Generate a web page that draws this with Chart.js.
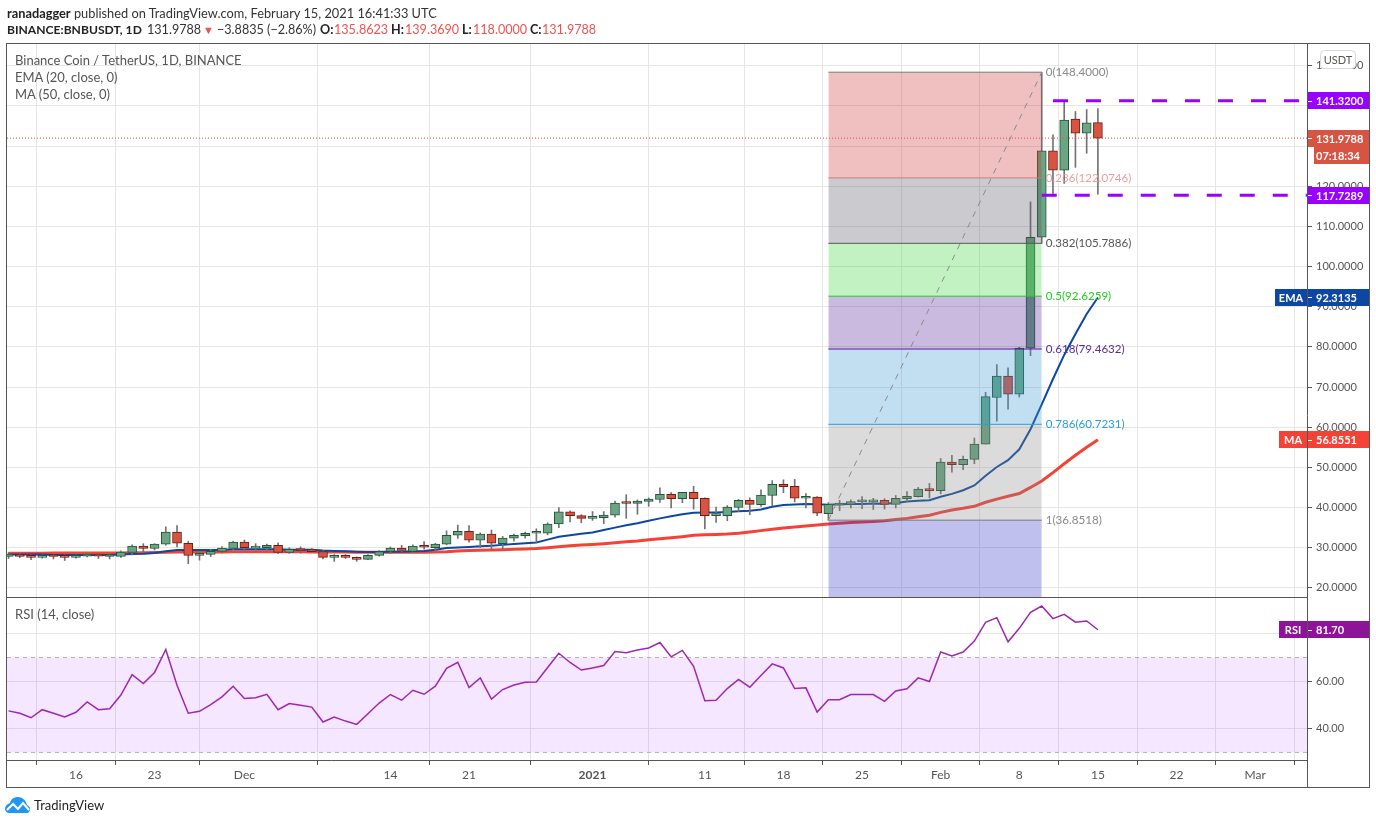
<!DOCTYPE html>
<html>
<head>
<meta charset="utf-8">
<title>BNBUSDT</title>
<script src="https://cdn.jsdelivr.net/npm/chart.js@4/dist/chart.umd.min.js"></script>
<style>
  html, body { margin: 0; background: #fff; width: 1376px; height: 824px; overflow: hidden; }
  body { position: relative; font-family: Lato, sans-serif; color: #333; }
  canvas { position: absolute; left: 0; top: 0; }
  .t { position: absolute; white-space: nowrap; font-size: 13px; line-height: 16px; }
  .h2 { top: 22px; font-size: 12.6px; }
  .legend { color: #555; }
  b { font-weight: 700; color: #222; }
  .r { color: #ef5350; }
  #logo { position: absolute; left: 5px; top: 796px; }
</style>
</head>
<body>
<canvas id="chart" width="1376" height="824"></canvas>
<div class="t" style="left:7px;top:5px;font-size:12.8px"><b>ranadagger</b> published on TradingView.com, February 15, 2021 16:41:33 UTC</div>
<div class="t h2" style="left:7px;font-size:12.1px"><b>BINANCE:BNBUSDT, 1D</b></div>
<div class="t h2" style="left:147px">131.9788</div>
<div class="t h2 r" style="left:203px;font-size:11px">▼</div>
<div class="t h2" style="left:217px">−3.8835 (−2.86%)</div>
<div class="t h2" style="left:320px"><b>O:</b></div>
<div class="t h2 r" style="left:334px">135.8623</div>
<div class="t h2" style="left:391px"><b>H:</b></div>
<div class="t h2 r" style="left:405px">139.3690</div>
<div class="t h2" style="left:462px"><b>L:</b></div>
<div class="t h2 r" style="left:473px">118.0000</div>
<div class="t h2" style="left:530px"><b>C:</b></div>
<div class="t h2 r" style="left:542px">131.9788</div>
<div class="t legend" style="left:15px;top:52px">Binance Coin / TetherUS, 1D, BINANCE</div>
<div class="t legend" style="left:15px;top:69px">EMA (20, close, 0)</div>
<div class="t legend" style="left:15px;top:86px">MA (50, close, 0)</div>
<div class="t legend" style="left:15px;top:606px">RSI (14, close)</div>
<svg id="logo" width="26" height="18" viewBox="0 0 26 18">
  <path fill="#2196f3" d="M4 17h18c2 0 3-2 3-4 0-2-1-3-3-4-1-5-5-8-9-8-4 0-7 2-8 6-3 1-5 3-5 6 0 2 2 4 4 4z"/>
  <path fill="none" stroke="#fff" stroke-width="2" d="M2 14l6-6 5 5 5-6 6 7"/>
</svg>
<div class="t" style="left:34px;top:797px;color:#222">TradingView</div>
<script>
// candles, index 0 = 10 Nov 2020, one per day up to 15 Feb 2021
const open = [27.8,28.2,28.0,27.6,28.2,28.0,27.6,27.9,28.4,27.8,27.8,28.8,30.4,29.8,30.9,33.9,31.1,28.1,28.3,29.05,29.8,31.4,29.9,30.0,30.6,28.8,29.6,29.4,29.05,27.6,28.1,27.6,27.1,28.1,29.05,29.9,29.05,30.4,30.0,30.9,33.1,34.1,31.9,33.4,31.0,32.4,33.0,33.6,33.6,35.9,38.9,38.0,37.3,37.5,38.1,41.1,41.0,41.5,42.0,43.3,42.2,43.8,42.3,38.0,38.0,40.0,41.8,40.7,43.0,45.8,45.3,42.3,42.6,38.5,40.6,40.8,41.4,41.4,41.8,40.8,42.2,42.7,44.6,44.2,51.3,50.7,52.0,55.8,67.4,72.7,68.2,79.7,107.3,128.8,124.0,136.7,133.2,135.86];
const high = [28.8,28.5,28.2,28.2,28.4,28.2,28.2,28.6,28.6,28.4,29.2,30.7,31.0,31.0,35.2,35.5,31.6,28.9,29.6,30.3,31.6,31.9,31.0,30.9,31.2,30.0,30.2,29.8,29.3,28.3,28.3,27.7,28.3,29.3,30.2,30.6,30.7,31.5,31.1,34.2,35.6,35.5,33.7,34.4,32.8,33.4,33.9,34.7,36.2,40.0,39.2,38.2,39.0,39.0,41.6,43.2,41.9,42.4,44.9,43.7,43.8,45.3,42.4,40.1,40.5,42.0,42.4,44.4,46.7,46.9,47.0,43.5,42.7,41.2,41.8,41.9,42.7,42.3,42.2,43.0,44.0,45.0,46.0,52.2,53.0,52.8,57.3,68.7,75.6,74.8,79.9,116.1,148.4,132.8,141.2,138.6,139.1,139.37];
const low = [27.3,27.5,27.0,27.4,27.2,26.8,27.4,27.7,27.3,27.2,27.6,28.2,28.8,29.4,30.6,30.2,26.0,26.9,27.8,28.7,29.5,29.1,29.1,29.3,28.5,28.6,28.6,28.9,27.2,26.6,27.3,26.6,27.0,27.9,28.5,28.9,28.7,29.6,29.3,30.7,32.3,31.4,30.0,29.6,29.6,31.6,32.4,31.3,33.2,35.0,36.4,36.2,36.8,36.0,37.6,37.3,38.3,40.3,41.3,39.9,41.2,39.6,34.7,36.3,36.7,39.0,38.2,40.3,40.4,43.7,41.4,39.9,38.0,36.85,39.2,39.9,39.7,39.5,39.6,39.9,41.5,42.6,42.4,43.4,48.8,49.4,50.9,55.8,61.5,64.5,67.5,77.8,105.8,117.6,120.7,124.7,128.2,118.0];
const close = [28.4,27.8,27.6,28.1,27.8,27.6,28.0,28.4,27.9,28.2,28.9,30.4,29.8,30.9,33.9,31.1,28.1,28.5,29.1,29.9,31.4,30.0,30.1,30.6,28.8,29.6,29.3,29.0,27.6,28.1,27.6,27.1,28.1,29.05,29.9,29.3,30.4,30.1,30.9,33.1,34.1,31.9,33.4,31.1,32.4,33.1,33.6,33.7,35.9,38.9,38.0,37.3,37.6,38.1,41.1,41.0,41.6,42.1,43.3,42.2,43.8,42.2,38.0,38.2,40.1,41.8,40.8,43.1,45.8,45.2,42.3,42.6,38.6,40.8,40.9,41.5,41.6,41.8,40.8,42.3,42.8,44.6,44.2,51.3,50.7,52.0,55.8,67.6,72.7,68.2,79.7,107.3,128.8,124.0,136.5,133.2,135.8,131.98];

const ema = [28.3,28.3,28.3,28.3,28.2,28.2,28.2,28.2,28.2,28.2,28.3,28.4,28.5,28.7,29.1,29.4,29.4,29.4,29.4,29.4,29.6,29.6,29.6,29.6,29.6,29.5,29.5,29.5,29.3,29.2,29.1,29.0,28.95,28.95,29.0,29.0,29.1,29.15,29.5,29.9,30.05,30.2,30.35,30.5,30.7,30.9,31.1,31.3,32.0,32.7,33.1,33.45,33.8,34.4,35.0,35.6,36.1,36.7,37.3,37.8,38.3,38.7,38.75,38.75,38.9,39.1,39.2,39.5,40.2,40.6,40.75,40.85,40.8,40.7,40.8,40.9,40.9,41.0,40.95,41.1,41.5,41.7,41.8,42.7,43.4,44.3,45.5,47.9,50.1,51.8,54.5,59.5,65.7,72.0,78.0,83.2,88.2,92.31];
const ma = [28.6,28.6,28.6,28.6,28.65,28.65,28.65,28.7,28.7,28.7,28.7,28.75,28.75,28.8,28.85,28.9,28.9,28.9,28.95,28.95,29.0,29.0,29.0,29.0,29.0,29.0,29.0,28.95,28.95,28.9,28.9,28.85,28.85,28.85,28.85,28.85,28.85,28.85,28.9,29.0,29.2,29.3,29.35,29.4,29.5,29.6,29.7,29.8,30.0,30.25,30.5,30.65,30.8,31.0,31.2,31.45,31.65,31.95,32.2,32.45,32.75,33.1,33.2,33.3,33.4,33.6,33.9,34.25,34.6,34.9,35.15,35.4,35.65,35.9,36.1,36.25,36.4,36.55,36.7,37.0,37.3,37.7,38.1,38.8,39.4,39.8,40.3,41.3,42.1,42.8,43.5,45.0,46.6,48.7,50.9,53.0,55.0,56.86];
const rsi = [47.5,46.5,44.6,48.0,46.5,44.9,46.9,51.3,48.0,48.4,54.2,62.8,59.0,63.7,73.4,58.3,46.5,47.3,50.1,53.4,57.9,52.7,53.0,54.5,48.0,50.6,49.9,49.1,42.8,44.9,43.2,41.8,46.3,50.8,54.4,52.0,56.2,54.5,57.9,65.4,68.0,57.3,61.4,52.5,56.5,58.4,59.6,59.7,65.8,71.8,67.9,64.7,65.6,66.6,72.5,72.0,73.2,74.0,76.3,70.3,73.0,66.3,51.8,52.0,56.9,60.8,57.5,62.4,67.3,65.6,56.9,57.2,47.0,52.2,52.2,54.4,54.4,54.4,51.5,55.9,56.8,61.4,59.9,72.3,70.7,72.3,76.9,84.8,86.8,76.6,82.3,89.0,91.7,86.4,88.2,84.9,85.4,81.7];

const fibRatios = ["0","0.236","0.382","0.5","0.618","0.786","1"];
const fibLevels = [148.4,122.0746,105.7886,92.6259,79.4632,60.7231,36.8518];
const fibStart = 73, fibEnd = 92;
const support = 117.7289, resistance = 141.32, lastPrice = 131.9788;
const emaLast = 92.3135, maLast = 56.8551, rsiLast = 81.7;

const priceTicks = [20,30,40,50,60,70,80,90,100,110,120,130,140,150];
const rsiTicks = [40,60,80];
const rsiBands = [70,30];
const timeTickIdx = [6,13,21,34,41,52,62,69,76,83,90,97,104,111];
const timeTickLabels = ["16","23","Dec","14","21","2021","11","18","25","Feb","8","15","22","Mar"];

// view limits of the axes
const xMin = -0.14, xMax = 115.62, priceMin = 17.72, priceMax = 155.42, rsiMin = 26.8, rsiMax = 95.5;

const UP = "#6ba583", UP_EDGE = "#225437", DOWN = "#d75442", DOWN_EDGE = "#6f1c11", WICK = "#737375";
const GRID = "#e6e6e6", FRAME = "#555", TEXT = "#555";
const FONT = "Lato, sans-serif";
const fibFills = ["rgba(205,48,48,.3)","rgba(82,82,95,.3)","rgba(55,212,52,.3)","rgba(82,28,148,.3)","rgba(52,148,212,.3)","rgba(135,135,135,.3)","rgba(48,48,202,.3)"];
const fibLines = ["#787878","#cf7a7a","#555","#22cc22","#5a1a9a","#2a9fd8","#787878"];
const fibText = ["#888","#ec9f9f","#555","#22cc22","#5a2a9a","#2a9fd8","#888"];

const idx = open.map((_, i) => i);
const isUp = i => close[i] >= open[i];
const series = vals => vals.map((v, i) => ({ x: i, y: v }));
const hline = (a, b, v) => [{ x: a, y: v }, { x: b, y: v }];
const lineBase = { type: "line", pointRadius: 0, tension: 0, yAxisID: "price" };

const datasets = [
  { ...lineBase, data: series(ma), borderColor: "#f44336", borderWidth: 3, order: 30 },
  { ...lineBase, data: series(ema), borderColor: "#0d47a1", borderWidth: 2, order: 29 },
  { type: "bar", data: idx.map(i => ({ x: i, y: [low[i], high[i]] })), backgroundColor: WICK,
    barThickness: 1, yAxisID: "price", grouped: false, order: 28 },
  { type: "bar", data: idx.map(i => ({ x: i, y: [open[i], close[i]] })),
    backgroundColor: idx.map(i => isUp(i) ? UP : DOWN),
    borderColor: idx.map(i => isUp(i) ? UP_EDGE : DOWN_EDGE),
    borderWidth: 1, borderSkipped: false, barThickness: 9, minBarLength: 2,
    yAxisID: "price", grouped: false, order: 27 },
  // fib retracement bands lie over the candles
  ...fibLevels.map((lv, i) => ({
    ...lineBase, data: hline(fibStart, fibEnd, lv), borderColor: fibLines[i], borderWidth: 1,
    backgroundColor: fibFills[i], fill: { target: { value: i < 6 ? fibLevels[i + 1] : priceMin } },
    order: 26 - i
  })),
  { ...lineBase, data: [{ x: fibStart, y: fibLevels[6] }, { x: fibEnd, y: fibLevels[0] }],
    borderColor: "#8a8a8a", borderWidth: 1, borderDash: [6, 6], order: 10 },
  { ...lineBase, data: hline(xMin, xMax, lastPrice), borderColor: DOWN, borderWidth: 1, borderDash: [1, 2], order: 9 },
  { ...lineBase, data: hline(93, xMax, resistance), borderColor: "#9900ff", borderWidth: 3, borderDash: [15, 18], order: 8 },
  { ...lineBase, data: hline(92, xMax, support), borderColor: "#9900ff", borderWidth: 3, borderDash: [15, 18], order: 7 },
  // RSI pane
  { ...lineBase, yAxisID: "rsi", data: hline(xMin, xMax, rsiBands[0]), borderColor: "#b7aebd", borderWidth: 1,
    borderDash: [4, 4], backgroundColor: "rgba(153,21,255,.1)", fill: { target: { value: rsiBands[1] } }, order: 6 },
  { ...lineBase, yAxisID: "rsi", data: hline(xMin, xMax, rsiBands[1]), borderColor: "#b7aebd", borderWidth: 1,
    borderDash: [4, 4], order: 5 },
  { ...lineBase, yAxisID: "rsi", data: series(rsi), borderColor: "#9c27b0", borderWidth: 1.5, order: 4 }
];

function priceTag(ctx, y, text, color, opts = {}) {
  const left = opts.left || 1308, h = 17, top = Math.round(y - h / 2);
  ctx.fillStyle = color;
  ctx.fillRect(left, top, 1369 - left, h);
  ctx.fillStyle = "#fff";
  ctx.fillRect(1308, Math.round(y), 4, 1);
  ctx.font = "bold 11px " + FONT;
  ctx.textAlign = "left";
  ctx.textBaseline = "middle";
  ctx.fillText(text, 1316, top + h / 2 + 0.5);
  if (opts.name) {
    ctx.fillStyle = color;
    ctx.fillRect(opts.nameLeft, top, 1307 - opts.nameLeft, h);
    ctx.fillStyle = "#fff";
    ctx.textAlign = "center";
    ctx.fillText(opts.name, (opts.nameLeft + 1307) / 2, top + h / 2 + 0.5);
  }
}

const overlay = {
  id: "overlay",
  afterDatasetsDraw(chart) {
    const { ctx, scales } = chart;
    ctx.save();
    ctx.font = "11.6px " + FONT;
    ctx.textAlign = "left";
    ctx.textBaseline = "middle";
    fibLevels.forEach((lv, i) => {
      ctx.fillStyle = fibText[i];
      ctx.fillText(fibRatios[i] + "(" + lv.toFixed(4) + ")", scales.x.getPixelForValue(fibEnd) + 4, scales.price.getPixelForValue(lv));
    });
    ctx.restore();
  },
  afterDraw(chart) {
    const { ctx, scales, chartArea } = chart;
    const P = scales.price, R = scales.rsi;
    ctx.save();
    // frame and pane dividers
    ctx.strokeStyle = FRAME;
    ctx.lineWidth = 1;
    ctx.strokeRect(6.5, 43.5, 1363, 744);
    ctx.beginPath();
    ctx.moveTo(6.5, Math.round(P.bottom) + 0.5); ctx.lineTo(chartArea.right + 0.5, Math.round(P.bottom) + 0.5);
    ctx.moveTo(6.5, Math.round(chartArea.bottom) + 0.5); ctx.lineTo(chartArea.right + 0.5, Math.round(chartArea.bottom) + 0.5);
    ctx.moveTo(chartArea.right + 0.5, 43.5); ctx.lineTo(chartArea.right + 0.5, 787.5);
    ctx.stroke();

    priceTag(ctx, P.getPixelForValue(resistance), resistance.toFixed(4), "#9900ff");
    const ly = P.getPixelForValue(lastPrice);
    priceTag(ctx, ly, lastPrice.toFixed(4), DOWN);
    ctx.fillStyle = DOWN;
    ctx.fillRect(1314, Math.round(ly) + 9, 55, 17);
    ctx.fillStyle = "#fff";
    ctx.fillText("07:18:34", 1316, Math.round(ly) + 18);
    priceTag(ctx, P.getPixelForValue(support), support.toFixed(4), "#9900ff");
    priceTag(ctx, P.getPixelForValue(emaLast), emaLast.toFixed(4), "#0d47a1", { name: "EMA", nameLeft: 1275 });
    priceTag(ctx, P.getPixelForValue(maLast), maLast.toFixed(4), "#f44336", { name: "MA", nameLeft: 1279 });
    priceTag(ctx, R.getPixelForValue(rsiLast), rsiLast.toFixed(2), "#8f1399", { name: "RSI", nameLeft: 1279 });

    // currency button
    ctx.fillStyle = "#fff";
    ctx.strokeStyle = "#d8d8e2";
    ctx.beginPath();
    ctx.roundRect(1320.5, 50.5, 35, 18, 4);
    ctx.fill();
    ctx.stroke();
    ctx.fillStyle = TEXT;
    ctx.font = "11px " + FONT;
    ctx.textAlign = "center";
    ctx.textBaseline = "middle";
    ctx.fillText("USDT", 1338, 60);
    ctx.restore();
  }
};

const yAxis = (min, max, tickVals, weight, digits) => ({
  type: "linear", position: "right", stack: "panes", stackWeight: weight, min, max,
  grid: { color: GRID, tickColor: FRAME, tickLength: 5 },
  border: { display: false },
  afterBuildTicks: s => { s.ticks = tickVals.map(v => ({ value: v })); },
  afterFit: s => { s.width = 62; },
  ticks: { color: TEXT, padding: 4, font: { family: FONT, size: 11 }, callback: v => v.toFixed(digits) }
});

new Chart(document.getElementById("chart"), {
  type: "bar",
  data: { datasets },
  options: {
    responsive: false,
    animation: false,
    layout: { padding: { left: 7, top: 44, right: 7, bottom: 37 } },
    plugins: { legend: { display: false }, tooltip: { enabled: false } },
    scales: {
      x: {
        type: "linear", min: xMin, max: xMax, offset: false,
        grid: { color: GRID, tickColor: FRAME, tickLength: 5 },
        border: { display: false },
        afterBuildTicks: s => { s.ticks = timeTickIdx.map(v => ({ value: v })); },
        afterFit: s => { s.height = 27; },
        ticks: {
          color: TEXT, autoSkip: false, maxRotation: 0, padding: 3,
          font: c => ({ family: FONT, size: 12, weight: c.tick && c.tick.value === 52 ? "bold" : "normal" }),
          callback: v => timeTickLabels[timeTickIdx.indexOf(v)]
        }
      },
      price: yAxis(priceMin, priceMax, priceTicks, 553, 4),
      rsi: yAxis(rsiMin, rsiMax, rsiTicks, 163, 2)
    }
  },
  plugins: [overlay]
});
</script>
</body>
</html>
